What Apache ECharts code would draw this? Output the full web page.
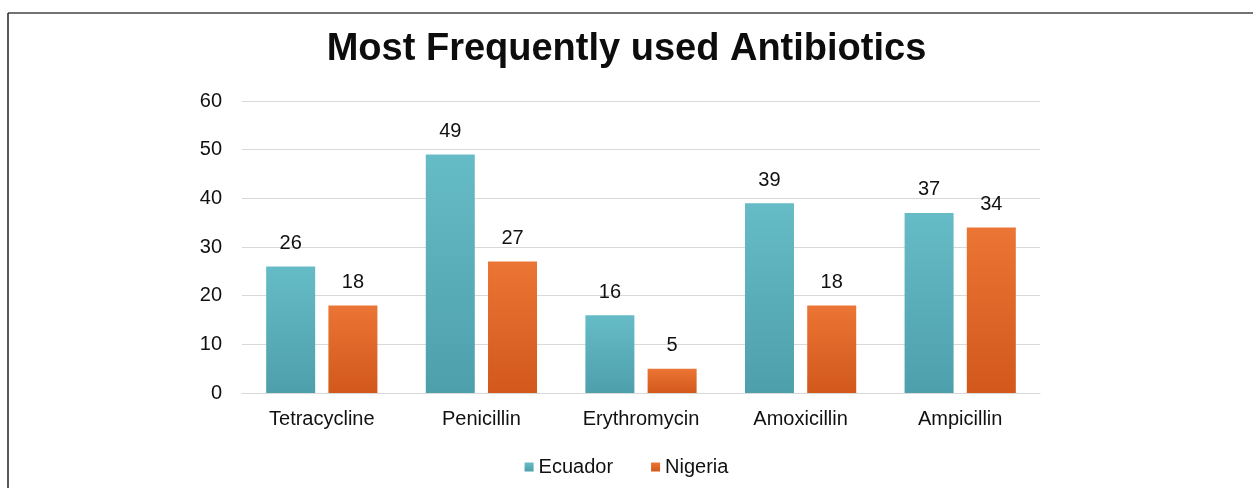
<!DOCTYPE html>
<html>
<head>
<meta charset="utf-8">
<script src="https://cdn.jsdelivr.net/npm/echarts@6/dist/echarts.min.js"></script>
<style>
  html, body { margin: 0; padding: 0; background: #fff; }
  #chart { width: 1253px; height: 488px; }
</style>
</head>
<body>
<div id="chart"></div>
<script>
var categories = ['Tetracycline', 'Penicillin', 'Erythromycin', 'Amoxicillin', 'Ampicillin'];
var ecuador = [26, 49, 16, 39, 37];
var nigeria = [18, 27, 5, 18, 34];
var yTicks = [0, 10, 20, 30, 40, 50, 60];

var chart = echarts.init(document.getElementById('chart'));

function grad(top, bottom) {
    return new echarts.graphic.LinearGradient(0, 0, 0, 1, [
        { offset: 0, color: top },
        { offset: 1, color: bottom }
    ]);
}

// value labels above the bars
var labelStyle = {
    show: true,
    position: 'top',
    distance: 13,
    color: '#111',
    fontSize: 20,
    fontFamily: 'Liberation Sans'
};

var option = {
    backgroundColor: '#fff',
    textStyle: { fontFamily: 'Liberation Sans' },
    title: {
        text: 'Most Frequently used Antibiotics',
        left: 'center',
        top: 26,
        textStyle: { fontSize: 38, fontWeight: 'bold', color: '#0d0d0d', fontFamily: 'Liberation Sans' }
    },
    legend: {
        bottom: 6,
        left: 'center',
        itemWidth: 9,
        itemHeight: 9,
        itemGap: 38,
        icon: 'rect',
        textStyle: { fontSize: 20, color: '#111' },
        data: ['Ecuador', 'Nigeria']
    },
    grid: { left: 242, right: 213, top: 101, bottom: 95 },
    xAxis: {
        type: 'category',
        data: categories,
        axisTick: { show: false },
        axisLine: { lineStyle: { color: '#d9d9d9' } },
        axisLabel: { fontSize: 20, color: '#111', margin: 16 }
    },
    yAxis: {
        type: 'value',
        min: yTicks[0],
        max: yTicks[yTicks.length - 1],
        interval: 10,
        axisLine: { show: false },
        axisTick: { show: false },
        axisLabel: { fontSize: 20, color: '#111', margin: 20 },
        splitLine: { lineStyle: { color: '#d9d9d9' } }
    },
    series: [
        {
            name: 'Ecuador',
            type: 'bar',
            data: ecuador,
            barWidth: 49,
            barGap: '27%',
            itemStyle: { color: grad('#66bcc6', '#4d9fac') },
            label: labelStyle
        },
        {
            name: 'Nigeria',
            type: 'bar',
            data: nigeria,
            barWidth: 49,
            itemStyle: { color: grad('#eb7535', '#d2581c') },
            label: labelStyle
        }
    ],
    graphic: [
        { type: 'line', shape: { x1: 8, y1: 13, x2: 1253, y2: 13 }, style: { stroke: '#444', lineWidth: 1.5 } },
        { type: 'line', shape: { x1: 8, y1: 13, x2: 8, y2: 488 }, style: { stroke: '#222', lineWidth: 1.5 } }
    ]
};

chart.setOption(option);
</script>
</body>
</html>
